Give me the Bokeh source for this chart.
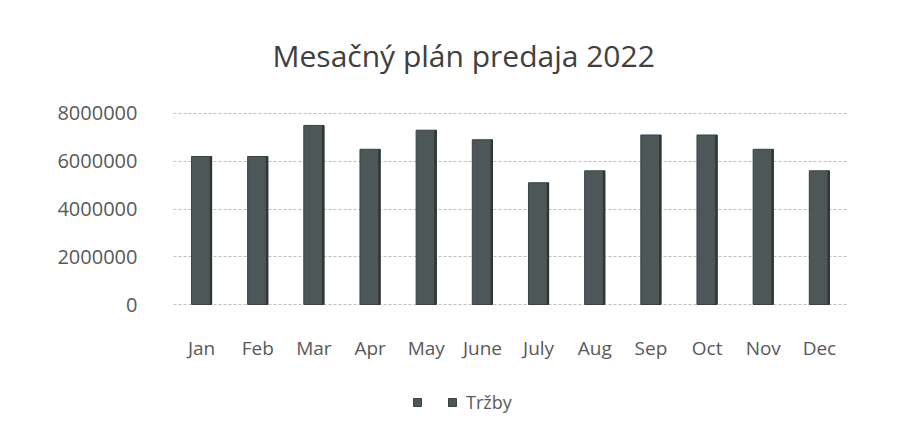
from bokeh.plotting import figure
from bokeh.models import Legend, LegendItem, ColumnDataSource, NumeralTickFormatter, FixedTicker
from bokeh.transform import dodge
from bokeh.embed import file_html
from bokeh.resources import INLINE

months = ["Jan", "Feb", "Mar", "Apr", "May", "June", "July", "Aug", "Sep", "Oct", "Nov", "Dec"]
trzby = [6200000, 6200000, 7500000, 6500000, 7300000, 6900000, 5100000, 5600000, 7100000, 7100000, 6500000, 5600000]
y_ticks = [0, 2000000, 4000000, 6000000, 8000000]

src = ColumnDataSource(dict(month=months, value=trzby))

FONT = "Open Sans"
TXT = "#595959"

# frame extends below zero so the x axis (fixed at 0) and the legend sit inside it
p = figure(x_range=months, y_range=(-5277000, 8335000), frame_width=674, frame_height=325,
           output_backend="svg", toolbar_location=None,
           min_border_left=173, min_border_right=43, min_border_top=105, min_border_bottom=5)

p.title.text = "Mesačný plán predaja 2022"
p.title.align = "left"
p.title.offset = 99
p.title.text_font = FONT
p.title.text_font_size = "30px"
p.title.text_font_style = "normal"
p.title.text_color = "#404040"
p.title.standoff = 60

bars = p.vbar(x="month", top="value", width=0.36, source=src,
              fill_color="#4e5757", line_color="#3a4242", line_width=1)
p.vbar(x=dodge("month", 0.165, range=p.x_range), top="value", width=0.04, source=src,
       fill_color="#2f3636", line_color=None)

p.outline_line_color = None
p.background_fill_color = "white"
p.border_fill_color = "white"

p.xgrid.grid_line_color = None
p.ygrid.grid_line_color = "#bfbfbf"
p.ygrid.grid_line_dash = "3 2"
p.ygrid.grid_line_width = 1

p.yaxis.ticker = FixedTicker(ticks=y_ticks)
p.yaxis.formatter = NumeralTickFormatter(format="0")
p.xaxis.fixed_location = 0
for ax in (p.xaxis[0], p.yaxis[0]):
    ax.axis_line_color = None
    ax.major_tick_line_color = None
    ax.minor_tick_line_color = None
    ax.major_label_text_font = FONT
    ax.major_label_text_font_size = "19px"
    ax.major_label_text_color = TXT
p.yaxis.major_label_text_font_size = "20px"
p.yaxis.major_label_standoff = 30
p.xaxis.major_label_standoff = 24

legend = Legend(items=[LegendItem(label=" ", renderers=[bars]),
                       LegendItem(label="Tržby", renderers=[bars])],
                orientation="horizontal", location=(239, 16),
                label_text_font=FONT, label_text_font_size="18px", label_text_color=TXT,
                glyph_width=10, glyph_height=10, border_line_color=None,
                background_fill_alpha=0, padding=5, label_width=1,
                margin=0, spacing=15, label_standoff=9)
p.add_layout(legend, "center")

open("out.html", "w").write(file_html(p, INLINE))
